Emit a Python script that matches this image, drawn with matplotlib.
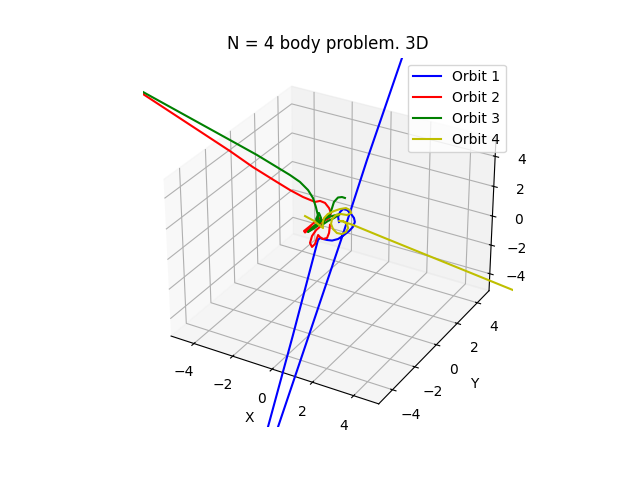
import numpy as np
import matplotlib
matplotlib.use('Agg')
import matplotlib.pyplot as plt

# orbit 1 has two pieces, the nan splits them
x1 = [-0.36,-0.39,-0.45,-0.54,-0.49,-0.36,-0.20,-0.00,0.21,0.39,0.54,0.64,0.66,0.58,0.43,0.23,0.07,-0.01,-0.03,0.06, np.nan,
      0.68,0.65,0.44,0.34,-0.01,-0.02]
y1 = [-5.58,-5.01,-2.72,-0.38,-0.30,-0.25,-0.18,-0.08,0.08,0.29,0.47,0.63,0.77,0.83,0.84,0.83,0.76,0.63,0.50,0.42, np.nan,
      5.38,4.91,2.21,0.20,-4.79,-5.30]
z1 = [-10.73,-9.57,-4.93,-0.13,-0.03,-0.08,-0.13,-0.16,-0.08,0.12,0.32,0.53,0.78,0.98,1.18,1.38,1.43,1.28,1.03,0.78, np.nan,
      9.97,9.06,3.91,0.02,-9.57,-10.58]

x2 = [-10.37,-8.76,-4.84,-3.80,-2.73,-2.15,-1.58,-1.07,-0.89,-0.68,-0.47,-0.34,-0.36,-0.52,-0.78,-1.00,-1.11,-1.17,-1.02,-0.82,-0.70,-0.56,-0.58,-0.72,-0.81,-0.81,-0.69,-0.61,-0.59,-0.50,-0.36,-0.22,-0.20,-0.25]
y2 = [-1.54,-1.44,-0.62,-0.42,-0.18,-0.04,0.11,0.28,0.41,0.48,0.47,0.42,0.28,0.11,-0.14,-0.37,-0.52,-0.51,-0.33,-0.06,0.08,0.09,-0.05,-0.23,-0.43,-0.61,-0.64,-0.52,-0.28,-0.28,-0.25,-0.14,-0.00,0.17]
z2 = [8.91,7.24,4.36,3.55,2.80,2.39,2.04,1.79,1.84,1.74,1.48,1.23,0.98,0.83,0.63,0.42,0.25,0.32,0.53,0.83,0.98,0.83,0.58,0.37,0.07,-0.28,-0.48,-0.33,0.12,0.02,-0.08,-0.03,0.22,0.63]

x3 = [-10.23,-8.78,-4.97,-3.78,-2.31,-1.86,-1.46,-1.19,-0.98,-0.80,-0.70,-0.84,-0.80,-0.67,-0.67,-0.85,-1.01,-0.84,-0.66,-0.48,-0.27,0.01,-0.17,-0.37,-0.55,-0.50,-0.37,-0.36,-0.35,-0.25,-0.10,0.02]
y3 = [-1.78,-1.40,-0.41,-0.10,0.24,0.33,0.35,0.31,0.20,0.08,-0.09,-0.02,0.16,0.11,-0.07,-0.28,-0.44,-0.20,0.01,0.21,0.38,0.60,0.39,0.20,-0.01,0.17,0.38,0.54,0.69,0.87,0.96,1.01]
z3 = [8.25,7.34,4.92,4.16,3.15,2.80,2.39,1.99,1.54,1.08,0.63,0.93,1.23,0.98,0.63,0.42,0.27,0.58,0.78,0.98,1.08,1.18,0.98,0.83,0.63,0.93,1.18,1.48,1.79,2.01,2.04,1.99]

x4 = [-1.29,-0.90,-0.48,-0.55,-0.55,-0.45,-0.25,-0.05,0.17,0.34,0.42,0.29,0.05,-0.13,-0.24,-0.22,-0.09,0.10,0.30,0.43,0.47,0.38,0.20,0.05,0.21,0.45,0.62,1.76,7.39,8.11]
y4 = [-0.21,-0.10,-0.04,0.04,0.17,0.33,0.52,0.69,0.84,0.89,0.86,0.73,0.62,0.49,0.33,0.21,0.16,0.17,0.26,0.39,0.51,0.56,0.53,0.44,0.52,0.61,0.67,1.05,2.94,3.18]
z4 = [1.08,0.83,0.47,0.73,0.98,1.18,1.33,1.43,1.48,1.38,1.23,1.13,1.18,1.13,0.93,0.68,0.42,0.22,0.17,0.27,0.47,0.68,0.83,0.83,0.80,0.70,0.63,0.07,-2.66,-3.01]

fig = plt.figure()
ax = fig.add_subplot(projection='3d', computed_zorder=False)
ax.plot(x1, y1, z1, 'b', label='Orbit 1')
ax.plot(x2, y2, z2, 'r', label='Orbit 2')
ax.plot(x3, y3, z3, 'g', label='Orbit 3')
ax.plot(x4, y4, z4, 'y', label='Orbit 4')
ax.set_xlim3d(-5.2, 5.2)
ax.set_ylim3d(-5.2, 5.2)
ax.set_zlim3d(-5.2, 5.2)
ax.set_xlabel('X')
ax.set_ylabel('Y')
ax.set_title('N = 4 body problem. 3D')
ax.legend(loc='upper right')
fig.savefig('out.png')
